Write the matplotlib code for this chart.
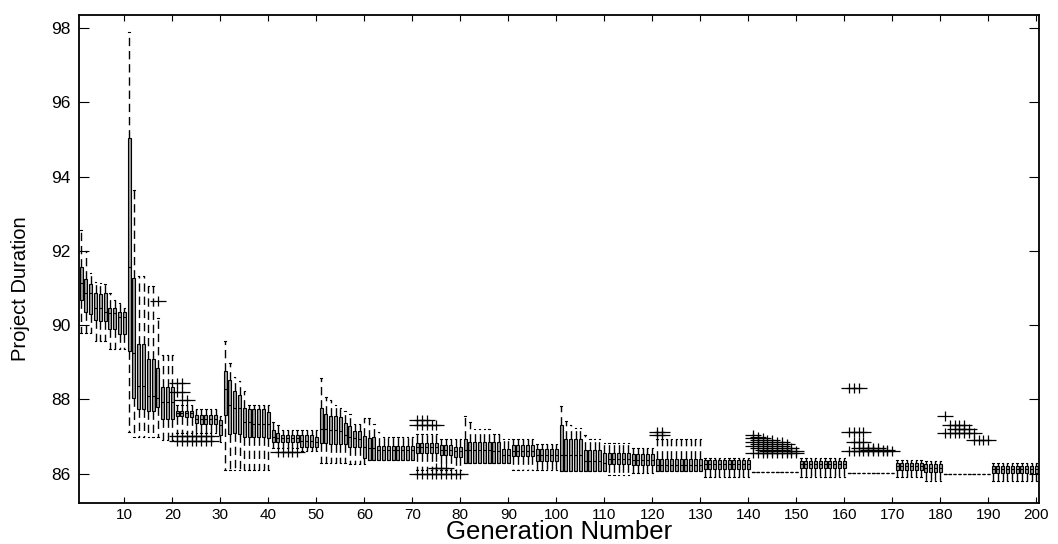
import matplotlib
matplotlib.use("Agg")
import matplotlib.pyplot as plt
from matplotlib.path import Path
from matplotlib import font_manager

# ---------------- data ----------------
generations = list(range(1, 201))
xtick_vals = list(range(10, 201, 10))
ytick_vals = [86, 88, 90, 92, 94, 96, 98]

# per-generation lower quartile
q1 = ([90.68, 90.34, 90.30, 90.14, 90.10, 90.12, 89.90, 89.90, 89.77, 89.77] +
      [89.30, 88.03, 87.73, 87.73, 87.70, 87.70, 87.79, 87.47, 87.47, 87.47] +
      [87.55, 87.55, 87.52, 87.52, 87.36, 87.35, 87.35, 87.34, 87.34, 87.05] +
      [87.58, 87.07, 87.09, 87.06, 87.00, 87.00, 87.00, 87.00, 87.00, 86.97] +
      [86.86, 86.86, 86.86, 86.86, 86.86, 86.86, 86.73, 86.73, 86.73, 86.73] +
      [86.82, 86.82, 86.80, 86.80, 86.80, 86.79, 86.73, 86.73, 86.73, 86.43] +
      [86.38, 86.38, 86.38, 86.38, 86.38, 86.38, 86.38, 86.38, 86.38, 86.38] +
      [86.55, 86.55, 86.55, 86.55, 86.55, 86.50, 86.50, 86.50, 86.46, 86.46] +
      [86.28, 86.28, 86.28, 86.28, 86.28, 86.28, 86.28, 86.28, 86.30, 86.30] +
      [86.48, 86.48, 86.48, 86.48, 86.48, 86.35, 86.35, 86.35, 86.35, 86.35] +
      [86.07, 86.07, 86.07, 86.07, 86.07, 86.07, 86.07, 86.07, 86.07, 86.07] +
      [86.25, 86.25, 86.25, 86.25, 86.25, 86.23, 86.23, 86.23, 86.23, 86.23] +
      [86.06] * 10 +
      [86.12] * 10 +
      [86.05] * 10 +
      [86.15] * 10 +
      [86.03] * 10 +
      [86.10] * 6 + [86.05] * 4 +
      [86.00] * 10 +
      [86.03] * 10)

med = ([91.13, 90.86, 90.86, 90.45, 90.45, 90.36, 90.32, 90.32, 90.23, 90.23] +
       [91.57, 89.24, 88.36, 88.36, 88.10, 88.10, 88.03, 87.92, 87.92, 87.92] +
       [87.63, 87.63, 87.62, 87.62, 87.46, 87.48, 87.48, 87.47, 87.47, 87.30] +
       [88.27, 87.85, 87.78, 87.76, 87.40, 87.40, 87.35, 87.35, 87.35, 87.34] +
       [87.00, 86.95, 86.95, 86.95, 86.95, 86.95, 86.89, 86.89, 86.89, 86.85] +
       [87.20, 87.20, 87.18, 87.18, 87.15, 87.05, 87.00, 86.95, 86.93, 86.73] +
       [86.70, 86.70, 86.63, 86.63, 86.63, 86.63, 86.63, 86.63, 86.63, 86.63] +
       [86.72, 86.72, 86.72, 86.72, 86.72, 86.65, 86.65, 86.65, 86.60, 86.60] +
       [86.63, 86.63, 86.63, 86.63, 86.63, 86.63, 86.60, 86.60, 86.50, 86.50] +
       [86.62, 86.62, 86.62, 86.62, 86.62, 86.50, 86.50, 86.50, 86.50, 86.50] +
       [86.50, 86.50, 86.50, 86.50, 86.50, 86.35, 86.35, 86.35, 86.35, 86.30] +
       [86.40, 86.40, 86.40, 86.40, 86.40, 86.37, 86.37, 86.37, 86.37, 86.37] +
       [86.22] * 10 +
       [86.25] * 10 +
       [86.05] * 10 +
       [86.25] * 10 +
       [86.03] * 10 +
       [86.20] * 6 + [86.15] * 4 +
       [86.00] * 10 +
       [86.12] * 10)

q3 = ([91.57, 91.23, 91.12, 90.86, 90.84, 90.86, 90.45, 90.45, 90.34, 90.34] +
      [95.03, 91.26, 89.49, 89.49, 89.08, 89.08, 88.84, 88.34, 88.34, 88.34] +
      [87.70, 87.70, 87.70, 87.70, 87.58, 87.58, 87.58, 87.58, 87.58, 87.45] +
      [88.76, 88.52, 88.23, 88.12, 87.78, 87.73, 87.73, 87.73, 87.73, 87.67] +
      [87.18, 87.09, 87.04, 87.04, 87.04, 87.04, 87.04, 87.04, 87.04, 87.00] +
      [87.76, 87.60, 87.56, 87.54, 87.52, 87.36, 87.29, 87.16, 87.14, 87.02] +
      [86.97, 87.00, 86.74, 86.74, 86.74, 86.74, 86.74, 86.74, 86.74, 86.74] +
      [86.83, 86.83, 86.83, 86.83, 86.83, 86.77, 86.77, 86.77, 86.73, 86.73] +
      [86.92, 86.86, 86.86, 86.86, 86.86, 86.86, 86.86, 86.86, 86.66, 86.66] +
      [86.77, 86.77, 86.77, 86.77, 86.77, 86.66, 86.66, 86.66, 86.66, 86.66] +
      [87.31, 86.92, 86.92, 86.92, 86.92, 86.63, 86.63, 86.63, 86.63, 86.55] +
      [86.56, 86.56, 86.56, 86.56, 86.56, 86.52, 86.52, 86.52, 86.52, 86.52] +
      [86.40] * 10 +
      [86.37] * 10 +
      [86.05] * 10 +
      [86.34] * 10 +
      [86.03] * 10 +
      [86.30] * 6 + [86.25] * 4 +
      [86.00] * 10 +
      [86.21] * 10)

whisk_lo = ([89.80, 89.80, 89.80, 89.57, 89.57, 89.57, 89.36, 89.36, 89.36, 89.36] +
            [87.13, 86.98, 86.98, 86.98, 86.98, 86.98, 86.98, 86.91, 86.91, 86.91] +
            [87.10, 87.10, 87.10, 87.10, 87.10, 87.10, 87.10, 87.10, 87.10, 86.86] +
            [86.10] * 10 +
            [86.70] * 6 + [86.60] * 4 +
            [86.30] * 6 + [86.25] * 4 +
            [86.38] * 10 +
            [86.10] * 10 +
            [86.28, 86.28, 86.28, 86.28, 86.28, 86.28, 86.28, 86.28, 86.30, 86.30] +
            [86.10] * 10 +
            [86.07] * 10 +
            [85.96] * 5 + [86.01] * 5 +
            [86.06] * 10 +
            [85.90] * 10 +
            [86.05] * 10 +
            [85.92] * 10 +
            [86.03] * 10 +
            [85.92] * 6 + [85.81] * 4 +
            [86.00] * 10 +
            [85.81] * 10)

whisk_hi = ([92.55, 91.99, 91.40, 91.17, 91.13, 91.10, 90.86, 90.68, 90.59, 90.45] +
            [97.90, 93.64, 91.32, 91.32, 91.04, 91.04, 90.19, 89.20, 89.20, 89.20] +
            [87.85, 87.85, 87.85, 87.85, 87.75, 87.75, 87.75, 87.75, 87.75, 87.55] +
            [89.58, 88.99, 88.61, 88.50, 88.23, 87.85, 87.85, 87.85, 87.85, 87.85] +
            [87.40, 87.30, 87.18, 87.18, 87.18, 87.18, 87.18, 87.18, 87.18, 87.18] +
            [88.57, 88.07, 87.98, 87.86, 87.77, 87.70, 87.61, 87.34, 87.34, 87.50] +
            [87.49, 87.33, 87.13, 87.00, 87.00, 87.00, 87.00, 87.00, 87.00, 87.00] +
            [87.07, 87.07, 87.07, 87.07, 87.07, 86.92, 86.92, 86.92, 86.92, 86.92] +
            [87.54, 87.39, 87.19, 87.19, 87.19, 87.19, 87.08, 87.08, 86.92, 86.92] +
            [86.92] * 5 + [86.80] * 5 +
            [87.82, 87.42, 87.31, 87.22, 87.22, 87.04, 86.93, 86.93, 86.93, 86.82] +
            [86.83] * 5 + [86.68] * 5 +
            [86.93] * 10 +
            [86.42] * 10 +
            [86.05] * 10 +
            [86.42] * 10 +
            [86.03] * 10 +
            [86.36] * 6 + [86.33] * 4 +
            [86.00] * 10 +
            [86.28] * 10)

# outliers ('+' marks), keyed by generation
outliers = {
    17: [90.66],
    21: [88.45, 88.20, 87.02, 86.88], 22: [88.45, 88.20, 87.98, 87.02, 86.88],
    23: [87.98, 87.02, 86.88], 24: [87.02, 86.88], 25: [87.02, 86.88],
    26: [87.02, 86.88], 27: [87.02, 86.88], 28: [87.02, 86.88],
    42: [86.57], 43: [86.57], 44: [86.57], 45: [86.57], 46: [86.57],
    71: [87.45, 87.31, 86.00], 72: [87.45, 87.31, 86.00], 73: [87.45, 87.31, 86.00],
    74: [87.31, 86.00], 75: [87.31, 86.16, 86.00], 76: [86.16, 86.00],
    77: [86.16, 86.00], 78: [86.00], 79: [86.00], 80: [86.00],
    121: [87.13, 87.05], 122: [87.13, 87.05],
    141: [87.05, 86.95, 86.85, 86.75, 86.55], 142: [87.00, 86.90, 86.80, 86.70, 86.55],
    143: [86.95, 86.85, 86.75, 86.65, 86.55], 144: [86.90, 86.80, 86.70, 86.60, 86.55],
    145: [86.90, 86.80, 86.70, 86.60, 86.55], 146: [86.85, 86.75, 86.65, 86.55],
    147: [86.85, 86.75, 86.65, 86.55], 148: [86.80, 86.70, 86.60, 86.55],
    149: [86.70, 86.60, 86.55], 150: [86.60, 86.55],
    161: [88.30, 87.12, 86.60], 162: [88.30, 87.12, 86.85, 86.60],
    163: [88.30, 87.12, 86.85, 86.70, 86.60], 164: [87.12, 86.85, 86.70, 86.60],
    165: [86.70, 86.65, 86.60], 166: [86.70, 86.65, 86.60], 167: [86.70, 86.60],
    168: [86.65, 86.60], 169: [86.65, 86.60], 170: [86.60],
    181: [87.55, 87.10], 182: [87.30, 87.10], 183: [87.30, 87.20, 87.10],
    184: [87.30, 87.20, 87.10], 185: [87.30, 87.20, 87.10], 186: [87.20, 87.10],
    187: [87.10, 86.90], 188: [86.90], 189: [86.90], 190: [86.90],
}

# ---------------- fonts ----------------
names = {f.name for f in font_manager.fontManager.ttflist}
narrow = 'Liberation Sans Narrow' if 'Liberation Sans Narrow' in names else 'Liberation Sans'
plt.rcParams['font.family'] = ['Liberation Sans', 'DejaVu Sans']

# ---------------- figure ----------------
fig = plt.figure(figsize=(10.58, 5.44), dpi=100)
ax = fig.add_axes([78.7 / 1058, 1 - 503 / 544, (1038.7 - 78.7) / 1058, (503 - 15) / 544])

stats = []
for i, g in enumerate(generations):
    stats.append(dict(med=med[i], q1=q1[i], q3=q3[i],
                      whislo=whisk_lo[i], whishi=whisk_hi[i],
                      fliers=outliers.get(g, [])))

plus = Path([(-1, 0), (1, 0), (0, -0.6), (0, 0.6)],
            [Path.MOVETO, Path.LINETO, Path.MOVETO, Path.LINETO])

ax.bxp(stats, positions=generations, widths=0.62, capwidths=0.3,
       patch_artist=True, manage_ticks=False,
       boxprops=dict(facecolor='#9c9c9c', edgecolor='black', linewidth=0.8),
       medianprops=dict(color='black', linewidth=0.8),
       whiskerprops=dict(color='black', linewidth=1.0, linestyle=(0, (6, 3.5))),
       capprops=dict(color='black', linewidth=0.8),
       flierprops=dict(marker=plus, markersize=11, markeredgecolor='black',
                       markerfacecolor='none', markeredgewidth=0.9, linestyle='none'))

ax.set_xlim(0.5, 200.5)
ax.set_ylim(85.21, 98.35)
ax.set_xticks(xtick_vals)
ax.set_xticklabels([str(v) for v in xtick_vals])
ax.set_yticks(ytick_vals)
ax.set_yticklabels([str(v) for v in ytick_vals])

ax.tick_params(axis='both', direction='in', colors='black',
               top=True, right=True, width=0.8)
ax.tick_params(axis='x', length=4.5, pad=3.5, labelsize=11)
ax.tick_params(axis='y', length=7.5, pad=6, labelsize=12.5)
for s in ax.spines.values():
    s.set_linewidth(1.3)
    s.set_color('black')

ax.set_xlabel('Generation Number', fontsize=18.5, family=[narrow, 'DejaVu Sans'], labelpad=-1)
fig.text(21 / 1058, 1 - 289 / 544, 'Project Duration', rotation=90, fontsize=14.5,
         family=[narrow, 'DejaVu Sans'], ha='center', va='center')

fig.savefig('out.png', dpi=100)
